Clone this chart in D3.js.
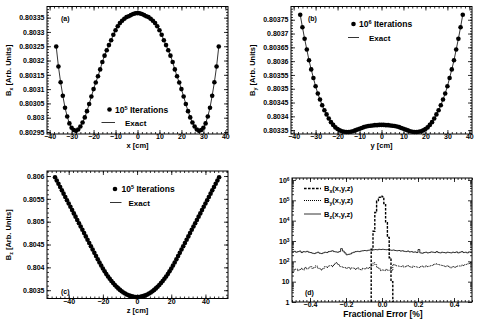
<!DOCTYPE html>
<html lang="en">
<head>
<meta charset="UTF-8">
<script src="https://cdn.jsdelivr.net/npm/d3@7"></script>
<style>
    body { margin: 0; background: #fff; }
    svg text { font-family: "Liberation Sans", Arial, sans-serif; font-weight: bold; fill: #000; }
</style>
</head>
<body>
<svg id="chart" width="489" height="331"></svg>
<script>
// ---- data ----
// (a) Bx along x, 1 cm steps from -37 to 37
const posA = d3.range(-37, 38);
const bxAlongX = [
    0.803249, 0.803179, 0.803124, 0.803077, 0.803035, 0.803004, 0.80298, 0.802965, 0.802957, 0.802954,
    0.802959, 0.802969, 0.802983, 0.803001, 0.803023, 0.803048, 0.803074, 0.8031, 0.803123, 0.803145,
    0.803169, 0.803195, 0.803217, 0.803236, 0.803254, 0.803271, 0.80329, 0.803306, 0.80332, 0.803331,
    0.803339, 0.803346, 0.803352, 0.803355, 0.803359, 0.803363, 0.803365,
    0.803366,
    0.803365, 0.803363, 0.803359, 0.803355, 0.803352, 0.803346, 0.803339, 0.803331, 0.80332, 0.803306,
    0.80329, 0.803271, 0.803254, 0.803236, 0.803217, 0.803195, 0.803169, 0.803145, 0.803123, 0.8031,
    0.803074, 0.803048, 0.803023, 0.803001, 0.802983, 0.802969, 0.802959, 0.802954, 0.802957, 0.802965,
    0.80298, 0.803004, 0.803035, 0.803077, 0.803124, 0.803179, 0.803249
];

// (b) By along y
const posB = d3.range(-37, 38);
const byAlongY = [
    0.803768, 0.803723, 0.803681, 0.803642, 0.803603, 0.80357, 0.803539, 0.803509, 0.803483, 0.803461,
    0.80344, 0.803422, 0.803407, 0.803392, 0.803379, 0.803369, 0.80336, 0.803354, 0.803349, 0.803346,
    0.803344, 0.803343, 0.803343, 0.803344, 0.803346, 0.803349, 0.803352, 0.803355, 0.803358, 0.803361,
    0.803363, 0.803365, 0.803366, 0.803367, 0.803368, 0.803368, 0.803369,
    0.803369,
    0.803369, 0.803368, 0.803368, 0.803367, 0.803366, 0.803365, 0.803363, 0.803361, 0.803358, 0.803355,
    0.803352, 0.803349, 0.803346, 0.803344, 0.803343, 0.803343, 0.803344, 0.803346, 0.803349, 0.803354,
    0.80336, 0.803369, 0.803379, 0.803392, 0.803407, 0.803422, 0.80344, 0.803461, 0.803483, 0.803509,
    0.803539, 0.80357, 0.803603, 0.803642, 0.803681, 0.803723, 0.803768
];

// (c) along z, -48 .. 48
const posC = d3.range(-48, 49);
const bAlongZ = [
    0.805974, 0.805902, 0.80583, 0.805758, 0.805686, 0.805614, 0.805542, 0.80547, 0.805398, 0.805326,
    0.805254, 0.805182, 0.80511, 0.805038, 0.804966, 0.804894, 0.804822, 0.80475, 0.804678, 0.804606,
    0.804534, 0.804462, 0.80439, 0.804318, 0.804246, 0.804175, 0.804105, 0.804038, 0.803974, 0.803913,
    0.803855, 0.803801, 0.803749, 0.803701, 0.803656, 0.803614, 0.803575, 0.803539, 0.803506, 0.803476,
    0.80345, 0.803426, 0.803406, 0.803389, 0.803375, 0.803364, 0.803356, 0.803352,
    0.80335,
    0.803352, 0.803356, 0.803364, 0.803375, 0.803389, 0.803406, 0.803426, 0.80345, 0.803476, 0.803506,
    0.803539, 0.803575, 0.803614, 0.803656, 0.803701, 0.803749, 0.803801, 0.803855, 0.803913, 0.803974,
    0.804038, 0.804105, 0.804175, 0.804246, 0.804318, 0.80439, 0.804462, 0.804534, 0.804606, 0.804678,
    0.80475, 0.804822, 0.804894, 0.804966, 0.805038, 0.80511, 0.805182, 0.805254, 0.805326, 0.805398,
    0.80547, 0.805542, 0.805614, 0.805686, 0.805758, 0.80583, 0.805902, 0.805974
];

// (d) fractional error histograms, bins of 0.01 %
const binWidth = 0.01;
const bzStart = -0.5;
const bzCounts = [
    290, 310, 280, 300, 320, 270, 300, 290, 310, 280,
    270, 250, 240, 260, 280, 250, 240, 260, 280, 270,
    300, 310, 330, 300, 290, 280, 300, 420, 320, 260,
    210, 220, 230, 260, 280, 300, 310, 300, 320, 330,
    340, 330, 350, 360, 350, 370, 380, 370, 390, 380,
    390, 380, 370, 380, 360, 350, 360, 340, 330, 340,
    320, 330, 310, 300, 320, 290, 300, 280, 290, 270,
    380, 260, 250, 270, 280, 260, 270, 290, 280, 270,
    300, 270, 260, 280, 270, 260, 280, 270, 260, 280,
    270, 290, 260, 280, 300, 270, 280, 260, 290, 280
];
const byStart = -0.5;
const byCounts = [
    30, 38, 42, 35, 40, 45, 38, 50, 42, 48,
    55, 45, 50, 60, 48, 42, 38, 45, 55, 50,
    58, 62, 55, 70, 85, 75, 60, 55, 50, 48,
    45, 50, 42, 48, 45, 40, 48, 42, 38, 45,
    42, 48, 45, 52, 60, 85, 70, 50, 45, 35,
    38, 35, 40, 36, 38, 35, 70, 65, 60, 58,
    55, 60, 52, 58, 62, 55, 50, 58, 55, 52,
    50, 55, 58, 52, 60, 55, 58, 62, 68, 72,
    75, 70, 65, 62, 58, 55, 60, 52, 48, 55,
    50, 55, 60, 58, 65, 62, 70, 75, 80, 88
];
const bxStart = -0.06;
const bxCounts = [400, 3000, 25000, 90000, 140000, 160000, 150000, 70000, 8000, 1500, 150, 10];

// tick labels
const ticksAx = [-40, -30, -20, -10, 0, 10, 20, 30, 40];
const ticksAy = [0.80295, 0.803, 0.80305, 0.8031, 0.80315, 0.8032, 0.80325, 0.8033, 0.80335];
const ticksBy = [0.80335, 0.8034, 0.80345, 0.8035, 0.80355, 0.8036, 0.80365, 0.8037, 0.80375];
const ticksCx = [-40, -20, 0, 20, 40];
const ticksCy = [0.8035, 0.804, 0.8045, 0.805, 0.8055, 0.806];
const ticksDx = [-0.4, -0.2, 0, 0.2, 0.4];
const ticksDy = [1, 10, 100, 1e3, 1e4, 1e5, 1e6];

const svg = d3.select("#chart");

function addSub(sel, base, sub, rest, size) {
    sel.text(base);
    sel.append("tspan").attr("dy", 2).attr("font-size", size * 0.7).text(sub);
    sel.append("tspan").attr("dy", -2).text(rest);
}

function addSup(sel, base, sup, rest, size) {
    sel.text(base);
    sel.append("tspan").attr("dy", -3).attr("font-size", size * 0.65).text(sup);
    sel.append("tspan").attr("dy", 3).text(rest);
}

// draws ROOT-like frame: ticks inside on all 4 sides, labels on left/bottom
function axes(g, x, y, o) {
    const [x0, x1] = x.range();
    const [y1, y0] = y.range();
    function side(axisFn, scale, vals, size, pos, labels, fmt) {
        const ax = axisFn(scale).tickValues(vals).tickSize(size).tickSizeOuter(0);
        if (!labels) ax.tickFormat("");
        else ax.tickFormat(fmt).tickPadding(labels);
        const a = g.append("g").attr("transform", pos).call(ax);
        a.select(".domain").remove();
        a.selectAll("line").attr("stroke", "#000").attr("stroke-width", 0.8);
        a.selectAll("text").attr("font-size", 7).attr("font-family", null).attr("fill", "#000");
        return a;
    }
    // bottom / top
    side(d3.axisBottom, x, o.xMinor, -2, `translate(0,${y1})`);
    const bx = side(d3.axisBottom, x, o.xMajor, -4, `translate(0,${y1})`, 1.5, o.xFmt);
    bx.selectAll("text").attr("dy", "0.55em");
    side(d3.axisTop, x, o.xMinor, -2, `translate(0,${y0})`);
    side(d3.axisTop, x, o.xMajor, -4, `translate(0,${y0})`);
    // left / right
    side(d3.axisLeft, y, o.yMinor, -2, `translate(${x0},0)`);
    const ly = side(d3.axisLeft, y, o.yMajor, -4, `translate(${x0},0)`, 2.5, o.yFmt);
    side(d3.axisRight, y, o.yMinor, -2, `translate(${x1},0)`);
    side(d3.axisRight, y, o.yMajor, -4, `translate(${x1},0)`);
    g.append("rect")
        .attr("x", x0).attr("y", y0)
        .attr("width", x1 - x0).attr("height", y1 - y0)
        .attr("fill", "none").attr("stroke", "#000").attr("stroke-width", 1);
    return ly;
}

function inDomain(scale, vals) {
    const [a, b] = scale.domain();
    return vals.filter(v => v >= Math.min(a, b) - 1e-12 && v <= Math.max(a, b) + 1e-12);
}

function yTitle(g, cx, cy, sub) {
    const t = g.append("text")
        .attr("transform", `translate(${cx},${cy}) rotate(-90)`)
        .attr("text-anchor", "middle").attr("font-size", 7.5);
    addSub(t, "B", sub, " [Arb. Units]", 7.5);
}

function legend(g, dx, dy, tx, lx0, lx1, ly, ex, power) {
    g.append("circle").attr("cx", dx).attr("cy", dy).attr("r", 2.3).attr("fill", "#000");
    const t = g.append("text").attr("x", tx).attr("y", dy + 3).attr("font-size", 8.5);
    addSup(t, "10", power, " Iterations", 8.5);
    g.append("line").attr("x1", lx0).attr("x2", lx1).attr("y1", ly).attr("y2", ly)
        .attr("stroke", "#000").attr("stroke-width", 0.8);
    g.append("text").attr("x", ex).attr("y", ly + 3).attr("font-size", 8).text("Exact");
}

function curvePanel(p) {
    const g = svg.append("g");
    const x = d3.scaleLinear().domain(p.xDom).range([p.x0, p.x1]);
    const y = d3.scaleLinear().domain(p.yDom).range([p.y1, p.y0]);
    axes(g, x, y, {
        xMajor: p.xMajor, xMinor: inDomain(x, p.xMinor),
        yMajor: p.yMajor, yMinor: inDomain(y, p.yMinor),
        xFmt: d3.format("d"), yFmt: d3.format(p.yFmtStr)
    });
    const pts = p.pos.map((v, i) => [v, p.vals[i]]);
    g.append("path").datum(pts)
        .attr("d", d3.line().x(d => x(d[0])).y(d => y(d[1])))
        .attr("fill", "none").attr("stroke", "#000").attr("stroke-width", 0.8);
    g.selectAll("circle.pt").data(pts).enter().append("circle")
        .attr("class", "pt")
        .attr("cx", d => x(d[0])).attr("cy", d => y(d[1]))
        .attr("r", 2.3).attr("fill", "#000");
    g.append("text").attr("x", (p.x0 + p.x1) / 2).attr("y", p.titleY)
        .attr("text-anchor", "middle").attr("font-size", 7.5).text(p.xTitle);
    yTitle(g, p.yTitleX, (p.y0 + p.y1) / 2, p.ySub);
    g.append("text").attr("x", p.tagX).attr("y", p.tagY).attr("font-size", 7).text(p.tag);
    return g;
}

// (a)
const ga = curvePanel({
    x0: 47, x1: 228, y0: 6.5, y1: 134,
    xDom: [-41.2, 41.2], yDom: [0.802943, 0.803389],
    pos: posA, vals: bxAlongX,
    xMajor: ticksAx, xMinor: d3.range(-42, 43, 2),
    yMajor: ticksAy, yMinor: d3.range(0.80294, 0.8034, 0.00001),
    yFmtStr: ".5~f", xTitle: "x [cm]", titleY: 147.5, yTitleX: 11, ySub: "x",
    tag: "(a)", tagX: 61, tagY: 21
});
legend(ga, 109.5, 109.5, 115, 101.5, 115, 122.5, 125, "5");

// (b)
const gb = curvePanel({
    x0: 291, x1: 472, y0: 6.5, y1: 134,
    xDom: [-41.2, 41.2], yDom: [0.803336, 0.803798],
    pos: posB, vals: byAlongY,
    xMajor: ticksAx, xMinor: d3.range(-42, 43, 2),
    yMajor: ticksBy, yMinor: d3.range(0.80333, 0.8038, 0.00001),
    yFmtStr: ".5~f", xTitle: "y [cm]", titleY: 147.5, yTitleX: 255, ySub: "y",
    tag: "(b)", tagX: 308, tagY: 21
});
legend(gb, 353.5, 24, 359, 348, 359, 37.5, 369, "6");

// (c)
const gc = curvePanel({
    x0: 47, x1: 228, y0: 171, y1: 298.5,
    xDom: [-52.7, 53.2], yDom: [0.803318, 0.80611],
    pos: posC, vals: bAlongZ,
    xMajor: ticksCx, xMinor: d3.range(-52.5, 53, 2.5),
    yMajor: ticksCy, yMinor: d3.range(0.8033, 0.80615, 0.0001),
    yFmtStr: ".4~f", xTitle: "z [cm]", titleY: 312.5, yTitleX: 11, ySub: "z",
    tag: "(c)", tagX: 61, tagY: 293.5
});
legend(gc, 115, 189, 121.5, 110, 121.5, 202.5, 128.5, "5");

// (d)
(function () {
    const g = svg.append("g");
    const x0 = 292, x1 = 472, y0 = 178, y1 = 302;
    const x = d3.scaleLinear().domain([-0.5, 0.5]).range([x0, x1]);
    const y = d3.scaleLog().domain([1, 1.25e6]).range([y1, y0]);
    const minorY = [];
    ticksDy.forEach(d => { for (let k = 2; k <= 9; k++) if (d * k <= 1.25e6) minorY.push(d * k); });
    const ly = axes(g, x, y, {
        xMajor: ticksDx, xMinor: d3.range(-0.5, 0.501, 0.02).map(v => +v.toFixed(2)),
        yMajor: ticksDy, yMinor: minorY,
        xFmt: d3.format(".1f"), yFmt: d => d
    });
    ly.selectAll("text").each(function (d) {
        const t = d3.select(this);
        if (d >= 100) {
            t.text("10");
            t.append("tspan").attr("dy", "-0.45em").attr("font-size", 4.8).text(Math.round(Math.log10(d)));
        }
    });

    function steps(start, counts, closeLeft) {
        const pts = [];
        const lo = y.domain()[0];
        if (closeLeft) pts.push([start, lo]);
        counts.forEach((c, i) => {
            pts.push([start + i * binWidth, c]);
            pts.push([start + (i + 1) * binWidth, c]);
        });
        if (closeLeft) pts.push([start + counts.length * binWidth, lo]);
        return pts;
    }
    const line = d3.line().x(d => x(d[0])).y(d => y(d[1]));
    g.append("path").datum(steps(bzStart, bzCounts, false)).attr("d", line)
        .attr("fill", "none").attr("stroke", "#000").attr("stroke-width", 0.8);
    g.append("path").datum(steps(byStart, byCounts, false)).attr("d", line)
        .attr("fill", "none").attr("stroke", "#000").attr("stroke-width", 1).attr("stroke-dasharray", "1,1");
    g.append("path").datum(steps(bxStart, bxCounts, true)).attr("d", line)
        .attr("fill", "none").attr("stroke", "#000").attr("stroke-width", 1.4).attr("stroke-dasharray", "2.6,1.4");

    // legend
    const rows = [["x", "2.6,1.4", 1.4, 188.5], ["y", "1,1", 1, 200.5], ["z", null, 0.8, 214]];
    rows.forEach(r => {
        g.append("line").attr("x1", 304).attr("x2", 321).attr("y1", r[3]).attr("y2", r[3])
            .attr("stroke", "#000").attr("stroke-width", r[2]).attr("stroke-dasharray", r[1]);
        const t = g.append("text").attr("x", 324).attr("y", r[3] + 2.5).attr("font-size", 7.5);
        addSub(t, "B", r[0], "(x,y,z)", 7.5);
    });
    g.append("text").attr("x", x(0.0) + 1).attr("y", 317).attr("text-anchor", "middle")
        .attr("font-size", 8.5).text("Fractional Error [%]");
    g.append("text").attr("x", 305).attr("y", 295).attr("font-size", 7).text("(d)");
})();
</script>
</body>
</html>
